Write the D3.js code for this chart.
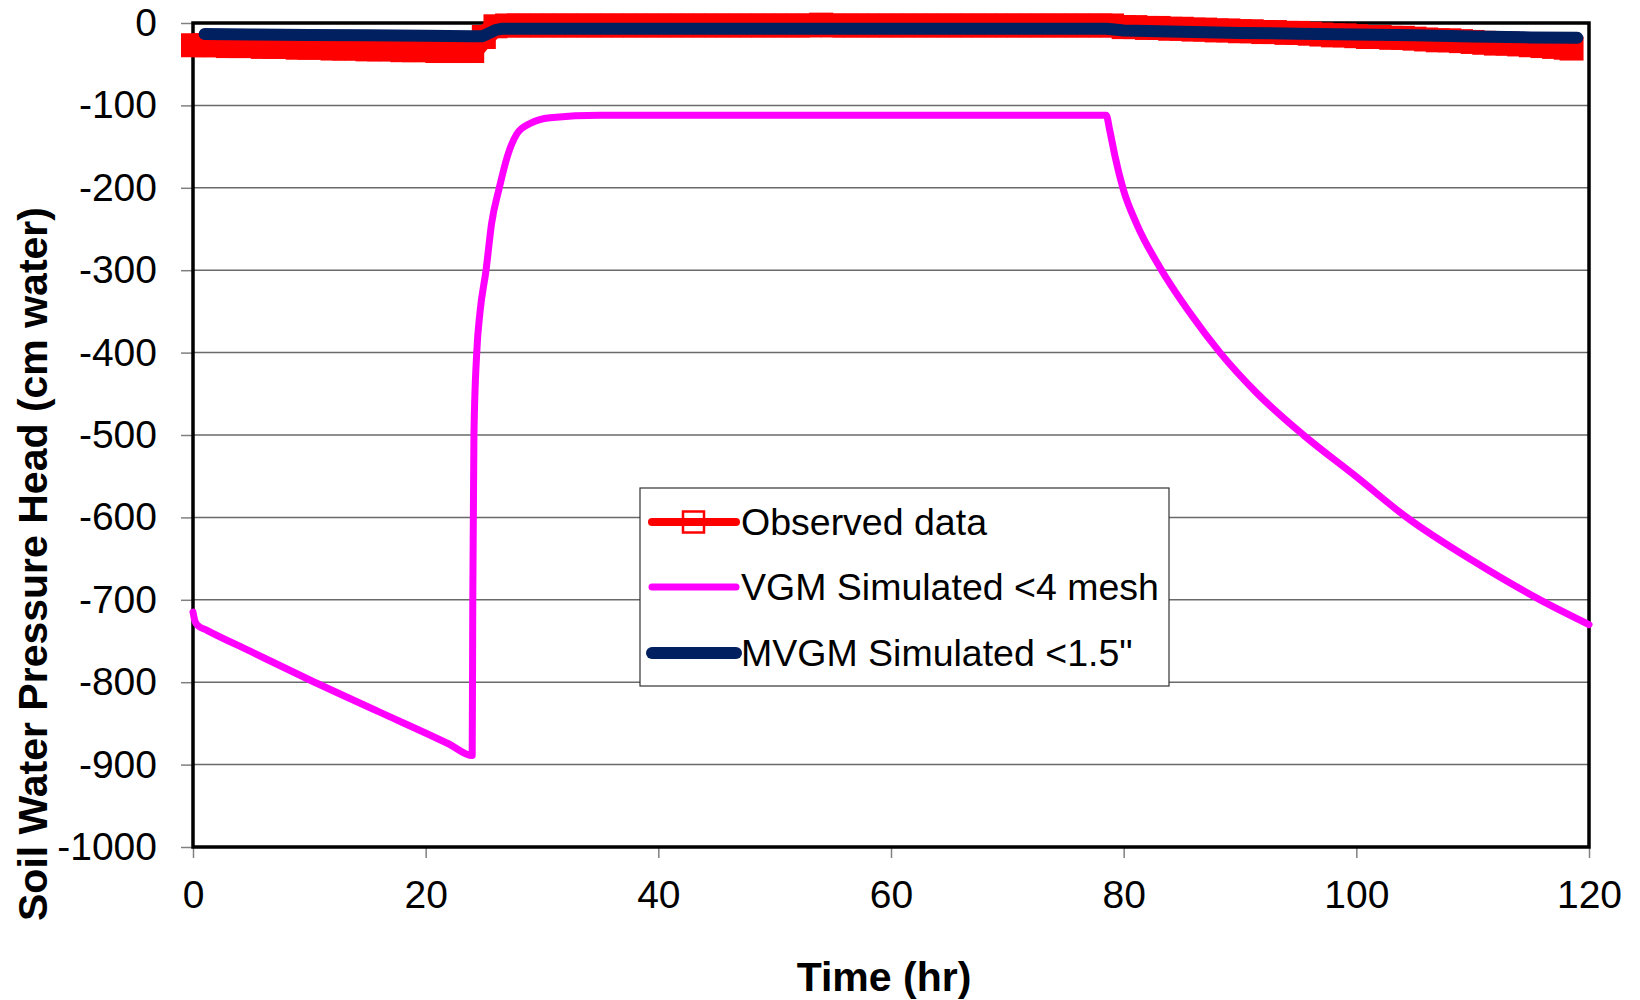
<!DOCTYPE html>
<html>
<head>
<meta charset="utf-8">
<script src="https://cdn.jsdelivr.net/npm/d3@7"></script>
<style>
  body { margin: 0; background: #fff; }
  svg { display: block; font-family: 'Liberation Sans', Arial, sans-serif; }
</style>
</head>
<body>
<svg id="chart" width="1640" height="1000"></svg>
<script>
// observed tensiometer readings (hourly)
const obsHours = [
  0, 1, 2, 3, 4, 5, 6, 7, 8, 9, 10, 11, 12, 13, 14, 15, 16, 17, 18, 19,
  20, 21, 22, 23, 24, 25, 26, 27, 28, 29, 30, 31, 32, 33, 34, 35, 36, 37, 38, 39,
  40, 41, 42, 43, 44, 45, 46, 47, 48, 49, 50, 51, 52, 53, 54, 55, 56, 57, 58, 59,
  60, 61, 62, 63, 64, 65, 66, 67, 68, 69, 70, 71, 72, 73, 74, 75, 76, 77, 78, 79,
  80, 81, 82, 83, 84, 85, 86, 87, 88, 89, 90, 91, 92, 93, 94, 95, 96, 97, 98, 99,
  100, 101, 102, 103, 104, 105, 106, 107, 108, 109, 110, 111, 112, 113, 114, 115, 116, 117, 118, 118.5
];
const obsHead = [
  -27, -27, -27, -28, -28, -28, -29, -29, -29, -30, -30, -30, -31, -31, -31, -32, -32, -32, -33, -33,
  -33, -34, -34, -34, -34, -17, -4, -3, -3, -3, -3, -3, -3, -3, -3, -3, -3, -3, -3, -3,
  -3, -3, -3, -3, -3, -3, -3, -3, -3, -3, -3, -3, -3, -3, -2, -3, -3, -3, -3, -3,
  -3, -3, -3, -3, -3, -3, -3, -3, -3, -3, -3, -3, -3, -3, -3, -3, -3, -3, -3, -3,
  -5, -5, -6, -6, -7, -7, -8, -8, -9, -9, -10, -10, -11, -11, -12, -12, -13, -14, -15, -15,
  -16, -17, -17, -18, -18, -19, -20, -21, -21, -22, -23, -24, -25, -25, -26, -27, -28, -29, -30, -31
];

// VGM model, <4 mesh
const vgmHours = [
  0, 0.15, 0.4, 1.2, 5, 10, 16, 22, 24, 24.05, 24.1, 24.15, 24.39, 24.67, 25.19,
  25.67, 26.33, 27.02, 27.82, 28.97, 30.69, 35, 50, 65, 78.5, 78.8, 79.26, 79.97,
  81.12, 83.13, 85.7, 88.28, 91.44, 95.45, 100.03, 104.33, 110.06, 115.8, 120
];
const vgmHead = [
  -715, -725, -731, -737, -763, -797, -836, -875, -889, -700, -600, -500, -400, -351, -300,
  -243, -200, -162, -135, -122, -115, -112, -112, -112, -112, -130, -162, -202,
  -244, -297, -352, -400, -449, -500, -551, -600, -653, -700, -730
];

// MVGM model, <1.5"
const mvgmHours = [
  1, 5, 10, 15, 20, 24, 24.9, 25.5, 26, 26.5, 30, 40, 50, 60, 70, 78.5, 79.2,
  80, 85, 90, 95, 100, 105, 110, 115, 119
];
const mvgmHead = [
  -13.4, -14, -14.5, -15, -15.5, -16, -16, -12, -8.5, -7, -7, -7, -7, -7, -7, -7, -8,
  -9, -10.5, -12, -13, -14, -15, -16.5, -17.5, -18
];

const xTicks = [0, 20, 40, 60, 80, 100, 120];
const yTicks = [0, -100, -200, -300, -400, -500, -600, -700, -800, -900, -1000];
const seriesNames = ['Observed data', 'VGM Simulated <4 mesh', 'MVGM Simulated <1.5"'];
const seriesColors = ['#ff0000', '#ff00ff', '#002060'];

let svg = d3.select('#chart');
let plotLeft = 193,
  plotRight = 1589,
  plotTop = 23,
  plotBottom = 847;

let xPos = d3.scaleLinear().domain([0, 120]).range([plotLeft, plotRight]);
let yPos = d3.scaleLinear().domain([-1000, 0]).range([plotBottom, plotTop]);

// grid
svg
  .append('g')
  .selectAll('line')
  .data(yTicks.filter((d) => d != 0 && d != -1000))
  .join('line')
  .attr('x1', plotLeft)
  .attr('x2', plotRight)
  .attr('y1', (d) => yPos(d))
  .attr('y2', (d) => yPos(d))
  .attr('stroke', '#6a6a6a')
  .attr('stroke-width', 1.5);

// axes
let yAxis = svg
  .append('g')
  .attr('transform', `translate(${plotLeft},0)`)
  .call(
    d3
      .axisLeft(yPos)
      .tickValues(yTicks)
      .tickFormat((d) => String(d))
      .tickSize(12)
      .tickPadding(24)
  );
let xAxis = svg
  .append('g')
  .attr('transform', `translate(0,${plotBottom})`)
  .call(
    d3
      .axisBottom(xPos)
      .tickValues(xTicks)
      .tickFormat((d) => String(d))
      .tickSize(11)
      .tickPadding(22)
  );

[yAxis, xAxis].forEach((ax) => {
  ax.select('.domain').remove();
  ax.selectAll('.tick line').attr('stroke', '#808080').attr('stroke-width', 1.5);
  ax.selectAll('.tick text')
    .attr('fill', '#000')
    .style('font-size', '39px')
    .style('font-family', "'Liberation Sans', Arial, sans-serif");
});

// plot frame
svg
  .append('rect')
  .attr('x', plotLeft)
  .attr('y', plotTop)
  .attr('width', plotRight - plotLeft)
  .attr('height', plotBottom - plotTop)
  .attr('fill', 'none')
  .attr('stroke', '#000')
  .attr('stroke-width', 3.5);

let line = d3
  .line()
  .x((d) => xPos(d[0]))
  .y((d) => yPos(d[1]));

let smoothLine = d3
  .line()
  .curve(d3.curveMonotoneX)
  .x((d) => xPos(d[0]))
  .y((d) => yPos(d[1]));

let obsData = d3.zip(obsHours, obsHead);

// observed: dense square markers merge into a thick band
svg
  .append('path')
  .datum(obsData)
  .attr('d', line)
  .attr('fill', 'none')
  .attr('stroke', seriesColors[0])
  .attr('stroke-width', 21)
  .attr('stroke-linejoin', 'round');

svg
  .append('g')
  .selectAll('rect')
  .data(obsData)
  .join('rect')
  .attr('x', (d) => xPos(d[0]) - 10.5)
  .attr('y', (d) => yPos(d[1]) - 10.5)
  .attr('width', 21)
  .attr('height', 21)
  .attr('fill', seriesColors[0])
  .attr('stroke', seriesColors[0])
  .attr('stroke-width', 3);

svg
  .append('path')
  .datum(d3.zip(vgmHours, vgmHead))
  .attr('d', smoothLine)
  .attr('fill', 'none')
  .attr('stroke', seriesColors[1])
  .attr('stroke-width', 7)
  .attr('stroke-linejoin', 'round')
  .attr('stroke-linecap', 'round');

svg
  .append('path')
  .datum(d3.zip(mvgmHours, mvgmHead))
  .attr('d', line)
  .attr('fill', 'none')
  .attr('stroke', seriesColors[2])
  .attr('stroke-width', 12)
  .attr('stroke-linejoin', 'round')
  .attr('stroke-linecap', 'round');

// legend
let legend = svg.append('g').attr('transform', 'translate(640,488)');
legend
  .append('rect')
  .attr('width', 529)
  .attr('height', 198)
  .attr('fill', '#fff')
  .attr('stroke', '#333')
  .attr('stroke-width', 1.2);

let rowY = [34, 99, 165];
let rowWidth = [8, 7, 12];
let entries = legend
  .selectAll('.entry')
  .data(seriesNames)
  .join('g')
  .attr('class', 'entry')
  .attr('transform', (d, i) => `translate(0,${rowY[i]})`);

entries
  .append('line')
  .attr('x1', 12)
  .attr('x2', 96)
  .attr('stroke', (d, i) => seriesColors[i])
  .attr('stroke-width', (d, i) => rowWidth[i])
  .attr('stroke-linecap', 'round');

entries
  .filter((d, i) => i == 0)
  .append('rect')
  .attr('x', 43)
  .attr('y', -10.5)
  .attr('width', 21)
  .attr('height', 21)
  .attr('fill', 'none')
  .attr('stroke', seriesColors[0])
  .attr('stroke-width', 2.5);

entries
  .append('text')
  .attr('x', 101)
  .attr('y', 13)
  .style('font-size', '37.5px')
  .text((d) => d);

// axis titles
svg
  .append('text')
  .attr('transform', 'translate(47,564) rotate(-90)')
  .attr('text-anchor', 'middle')
  .style('font-size', '41px')
  .style('font-weight', 'bold')
  .text('Soil Water Pressure Head (cm water)');

svg
  .append('text')
  .attr('x', 884)
  .attr('y', 991)
  .attr('text-anchor', 'middle')
  .style('font-size', '41px')
  .style('font-weight', 'bold')
  .text('Time (hr)');
</script>
</body>
</html>
